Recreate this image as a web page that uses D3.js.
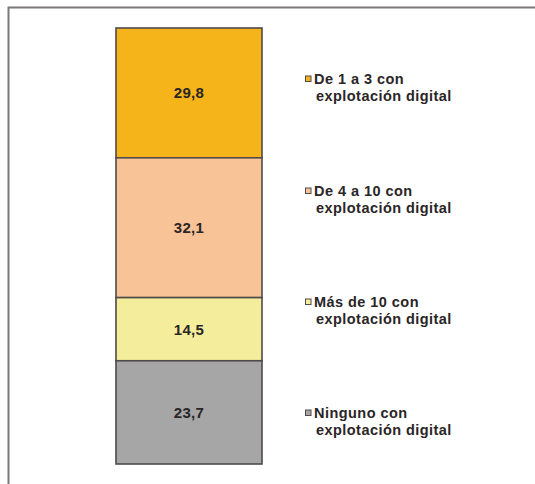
<!DOCTYPE html>
<html>
<head>
<meta charset="utf-8">
<script src="https://cdn.jsdelivr.net/npm/d3@7"></script>
<style>
  html, body { margin: 0; padding: 0; background: #fff; }
  svg { display: block; }
  text { font-family: "Liberation Sans", Arial, sans-serif; font-weight: bold; fill: #2a2526; }
</style>
</head>
<body>
<svg id="chart" width="535" height="484"></svg>
<script>
// Segments listed from top of the column to the bottom
const categories = [
  ["De 1 a 3 con", "explotación digital"],
  ["De 4 a 10 con", "explotación digital"],
  ["Más de 10 con", "explotación digital"],
  ["Ninguno con", "explotación digital"]
];
const values = [29.8, 32.1, 14.5, 23.7];
const valueLabels = ["29,8", "32,1", "14,5", "23,7"];
const colors = ["#f4b41a", "#f8c497", "#f4ee9c", "#a6a6a6"];

const svg = d3.select("#chart");

// Outer frame (left and top edges)
svg.append("path")
  .attr("d", "M8.5,484 V7.5 H535")
  .attr("fill", "none")
  .attr("stroke", "#7d7879")
  .attr("stroke-width", 2);

const total = d3.sum(values);
const starts = values.map((v, i) => d3.sum(values.slice(0, i)));

const y = d3.scaleLinear().domain([0, total]).range([28, 464]);
const x = d3.scaleBand().domain(["col"]).range([116, 262]).padding(0);

const seg = svg.append("g").selectAll("g")
  .data(values)
  .join("g");

seg.append("rect")
  .attr("x", x("col"))
  .attr("width", x.bandwidth())
  .attr("y", (d, i) => y(starts[i]))
  .attr("height", d => y(d) - y(0))
  .attr("fill", (d, i) => colors[i])
  .attr("stroke", "#4f4a4b")
  .attr("stroke-width", 1.6);

seg.append("text")
  .attr("x", x("col") + x.bandwidth() / 2)
  .attr("y", (d, i) => y(starts[i] + d / 2))
  .attr("dy", "0.36em")
  .attr("text-anchor", "middle")
  .attr("font-size", 15)
  .attr("letter-spacing", 0.3)
  .text((d, i) => valueLabels[i]);

// Legend
const legendBaselines = [84, 196, 307, 418];
const leg = svg.append("g").selectAll("g")
  .data(categories)
  .join("g")
  .attr("transform", (d, i) => `translate(0,${legendBaselines[i]})`);

leg.append("rect")
  .attr("x", 305.5)
  .attr("y", -8)
  .attr("width", 5.5)
  .attr("height", 5.5)
  .attr("fill", (d, i) => colors[i])
  .attr("stroke", "#4f4a4b")
  .attr("stroke-width", 1);

leg.append("text")
  .attr("font-size", 14.5)
  .attr("letter-spacing", 0.45)
  .selectAll("tspan")
  .data(d => d)
  .join("tspan")
  .attr("x", (d, j) => j === 0 ? 314 : 316)
  .attr("dy", (d, j) => j === 0 ? 0 : 16.5)
  .text(d => d);
</script>
</body>
</html>
